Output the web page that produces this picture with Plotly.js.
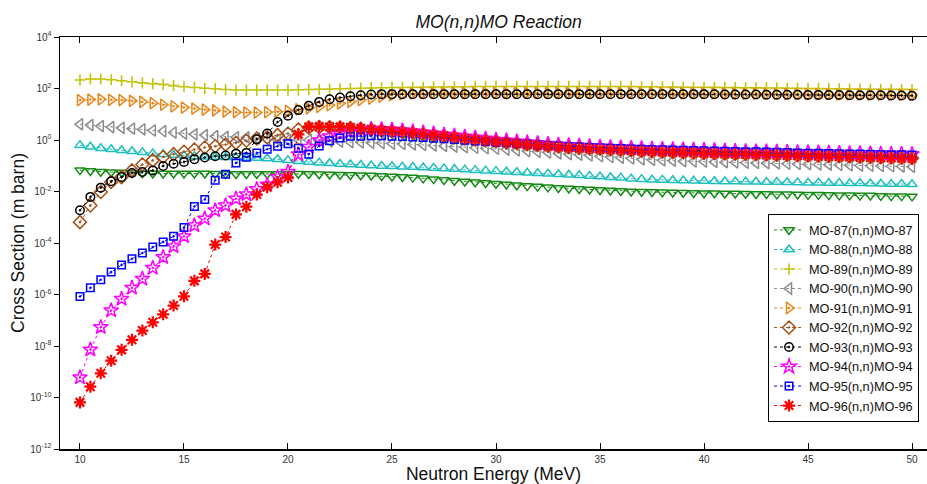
<!DOCTYPE html>
<html>
<head>
<meta charset="utf-8">
<script src="https://cdn.plot.ly/plotly-3.0.1.min.js"></script>
<style>html,body{margin:0;padding:0;background:#fff;}#chart{width:927px;height:484px;}</style>
</head>
<body>
<div id="chart"></div>
<script>
// Neutron energy (MeV)
const energy = [10,10.5,11,11.5,12,12.5,13,13.5,14,14.5,15,15.5,16,16.5,17,17.5,18,18.5,19,19.5,20,20.5,21,21.5,22,22.5,23,23.5,24,24.5,25,25.5,26,26.5,27,27.5,28,28.5,29,29.5,30,30.5,31,31.5,32,32.5,33,33.5,34,34.5,35,35.5,36,36.5,37,37.5,38,38.5,39,39.5,40,40.5,41,41.5,42,42.5,43,43.5,44,44.5,45,45.5,46,46.5,47,47.5,48,48.5,49,49.5,50];

// Cross sections (m barn)
const mo87 = [0.0676,0.0631,0.0589,0.0562,0.0550,0.0525,0.0513,0.0501,0.0501,0.0501,
  0.0501,0.0501,0.0501,0.0490,0.0479,0.0479,0.0479,0.0479,0.0479,0.0479,
  0.0490,0.0490,0.0479,0.0468,0.0457,0.0447,0.0437,0.0427,0.0417,0.0398,
  0.0380,0.0363,0.0347,0.0324,0.0302,0.0282,0.0263,0.0245,0.0229,0.0214,
  0.0200,0.0186,0.0174,0.0162,0.0155,0.0145,0.0138,0.0132,0.0126,0.0120,
  0.0115,0.0110,0.0105,0.0100,0.00977,0.00955,0.00933,0.00912,0.00891,0.00871,
  0.00851,0.00851,0.00832,0.00832,0.00813,0.00794,0.00794,0.00776,0.00776,0.00759,
  0.00741,0.00741,0.00724,0.00708,0.00708,0.00692,0.00692,0.00676,0.00661,0.00661,
  0.00646];
const mo88 = [0.631,0.550,0.479,0.437,0.398,0.363,0.331,0.302,0.282,0.263,
  0.251,0.234,0.224,0.219,0.214,0.209,0.204,0.200,0.191,0.178,
  0.162,0.148,0.141,0.132,0.126,0.117,0.112,0.107,0.102,0.0977,
  0.0955,0.0912,0.0891,0.0851,0.0813,0.0776,0.0741,0.0708,0.0676,0.0646,
  0.0617,0.0589,0.0562,0.0537,0.0513,0.0490,0.0468,0.0447,0.0427,0.0398,
  0.0380,0.0355,0.0339,0.0316,0.0302,0.0288,0.0282,0.0275,0.0269,0.0263,
  0.0257,0.0251,0.0245,0.0245,0.0240,0.0240,0.0234,0.0234,0.0229,0.0224,
  0.0219,0.0219,0.0214,0.0214,0.0209,0.0209,0.0204,0.0200,0.0195,0.0195,
  0.0191];
const mo89 = [214,234,234,219,200,182,166,155,145,129,
  117,110,102,97.7,91.2,87.1,87.1,87.1,87.1,87.1,
  87.1,89.1,91.2,93.3,95.5,97.7,100,102,105,107,
  110,110,112,112,115,115,117,117,120,120,
  120,120,120,120,120,120,120,120,120,120,
  120,120,120,120,117,117,115,115,112,112,
  112,111,110,108,107,106,105,104,102,101,
  100,98.9,97.7,96.6,95.5,94.4,93.3,93.3,93.3,92.3,
  91.2];
const mo90 = [4.07,3.80,3.47,3.16,2.95,2.75,2.57,2.34,2.19,1.95,
  1.78,1.66,1.55,1.41,1.32,1.29,1.26,1.15,1.05,1.02,
  1.00,1.02,1.00,0.955,0.891,0.871,0.832,0.813,0.776,0.759,
  0.724,0.708,0.676,0.646,0.617,0.589,0.550,0.525,0.501,0.479,
  0.457,0.427,0.398,0.372,0.347,0.324,0.302,0.282,0.269,0.251,
  0.234,0.219,0.204,0.191,0.178,0.170,0.162,0.158,0.151,0.148,
  0.145,0.141,0.138,0.135,0.132,0.129,0.126,0.123,0.120,0.117,
  0.115,0.112,0.110,0.107,0.105,0.102,0.100,0.0977,0.0955,0.0933,
  0.0912];
const mo91 = [35.5,37.2,38.0,36.3,35.5,33.1,30.2,26.9,23.4,20.4,
  18.2,16.6,15.1,14.1,12.6,12.0,11.7,11.7,12.0,12.6,
  13.5,15.5,17.0,19.5,22.4,26.3,30.2,35.5,40.7,47.9,
  55.0,60.3,64.6,66.1,67.6,67.6,67.6,67.6,67.6,67.6,
  67.6,67.6,67.6,67.6,67.6,67.6,67.6,67.6,67.6,67.6,
  67.6,67.6,67.6,67.6,67.6,67.6,67.6,67.6,66.1,66.1,
  66.1,65.3,64.6,63.8,63.1,63.1,63.1,62.4,61.7,61.0,
  60.3,60.3,60.3,59.6,58.9,58.2,57.5,57.5,57.5,56.9,
  56.2];
const mo92 = [6.46e-4,2.88e-3,9.55e-3,2.34e-2,3.63e-2,6.61e-2,0.112,0.162,0.219,0.282,
  0.347,0.427,0.513,0.575,0.661,0.776,0.933,1.15,1.26,1.55,
  1.78,2.57,3.02,3.16,3.09,3.02,2.88,2.69,2.51,2.29,
  2.14,2.00,1.82,1.66,1.51,1.38,1.26,1.15,1.05,0.955,
  0.891,0.813,0.759,0.692,0.646,0.603,0.562,0.525,0.501,0.479,
  0.457,0.437,0.417,0.398,0.380,0.363,0.355,0.339,0.331,0.324,
  0.316,0.309,0.302,0.295,0.288,0.282,0.275,0.269,0.263,0.257,
  0.251,0.245,0.240,0.234,0.229,0.224,0.219,0.214,0.209,0.204,
  0.200];
const mo93 = [1.86e-3,6.17e-3,1.41e-2,2.51e-2,3.63e-2,5.25e-2,5.75e-2,6.61e-2,9.77e-2,0.120,
  0.141,0.178,0.209,0.234,0.251,0.295,0.316,1.07,1.78,5.01,
  8.71,14.5,21.4,30.2,38.0,44.7,50.1,55.0,58.9,60.3,
  60.3,60.3,60.3,60.3,60.3,60.3,60.3,60.3,60.3,60.3,
  60.3,60.3,60.3,60.3,60.3,60.3,60.3,60.3,60.3,60.3,
  60.3,60.3,60.3,60.3,60.3,60.3,60.3,60.3,60.3,60.3,
  60.3,59.6,58.9,58.9,58.9,58.2,57.5,57.5,57.5,56.9,
  56.2,56.2,56.2,55.6,55.0,55.0,55.0,54.4,53.7,53.1,
  52.5];
const mo94 = [6.03e-10,7.24e-9,5.37e-8,2.40e-7,6.76e-7,1.82e-6,4.07e-6,1.07e-5,2.82e-5,7.41e-5,
  1.82e-4,4.79e-4,8.91e-4,1.86e-3,2.88e-3,5.25e-3,7.76e-3,1.23e-2,1.86e-2,3.63e-2,
  5.75e-2,0.275,0.537,0.977,1.38,1.82,2.19,2.51,2.69,2.63,
  2.51,2.34,2.14,1.95,1.78,1.62,1.48,1.35,1.23,1.12,
  1.02,0.955,0.871,0.813,0.759,0.708,0.661,0.631,0.603,0.575,
  0.550,0.525,0.513,0.490,0.479,0.457,0.447,0.437,0.427,0.417,
  0.407,0.398,0.389,0.380,0.372,0.363,0.363,0.355,0.347,0.339,
  0.331,0.331,0.324,0.316,0.309,0.309,0.302,0.295,0.288,0.288,
  0.282];
const mo95 = [8.32e-7,1.82e-6,3.72e-6,7.41e-6,1.41e-5,2.45e-5,4.07e-5,6.92e-5,1.10e-4,1.82e-4,
  3.98e-4,2.63e-3,4.90e-3,2.75e-2,4.68e-2,0.129,0.214,0.316,0.437,0.575,
  0.708,0.479,0.282,0.589,0.933,1.20,1.41,1.41,1.45,1.45,
  1.41,1.38,1.32,1.26,1.17,1.12,1.05,0.977,0.912,0.871,
  0.813,0.776,0.724,0.692,0.646,0.617,0.589,0.562,0.537,0.513,
  0.501,0.479,0.468,0.447,0.437,0.427,0.417,0.407,0.398,0.389,
  0.380,0.372,0.363,0.355,0.347,0.347,0.339,0.331,0.324,0.316,
  0.309,0.309,0.302,0.295,0.288,0.288,0.282,0.275,0.269,0.269,
  0.263];
const mo96 = [6.46e-11,2.63e-10,8.71e-10,2.69e-9,7.08e-9,1.74e-8,3.98e-8,8.32e-8,1.70e-7,3.72e-7,
  8.51e-7,3.39e-6,6.31e-6,8.71e-5,1.70e-4,1.29e-3,2.57e-3,7.59e-3,1.45e-2,2.29e-2,
  3.47e-2,1.66,3.24,3.31,3.24,3.24,3.09,2.88,2.63,2.40,
  2.24,2.09,1.91,1.74,1.58,1.45,1.29,1.15,1.05,0.955,
  0.871,0.794,0.724,0.661,0.617,0.575,0.537,0.501,0.479,0.457,
  0.437,0.417,0.398,0.380,0.363,0.355,0.339,0.331,0.324,0.316,
  0.302,0.295,0.288,0.282,0.275,0.269,0.263,0.257,0.251,0.245,
  0.240,0.234,0.229,0.224,0.219,0.214,0.209,0.204,0.200,0.195,
  0.191];

const seriesNames = ['MO-87(n,n)MO-87','MO-88(n,n)MO-88','MO-89(n,n)MO-89','MO-90(n,n)MO-90','MO-91(n,n)MO-91',
  'MO-92(n,n)MO-92','MO-93(n,n)MO-93','MO-94(n,n)MO-94','MO-95(n,n)MO-95','MO-96(n,n)MO-96'];
const xTickVals = [10,15,20,25,30,35,40,45,50];
const yTickVals = [1e-12,1e-10,1e-8,1e-6,1e-4,1e-2,1e0,1e2,1e4];
const yTickText = ['10<sup>-12</sup>','10<sup>-10</sup>','10<sup>-8</sup>','10<sup>-6</sup>','10<sup>-4</sup>','10<sup>-2</sup>','10<sup>0</sup>','10<sup>2</sup>','10<sup>4</sup>'];

const seriesData = [mo87,mo88,mo89,mo90,mo91,mo92,mo93,mo94,mo95,mo96];
const styles = [
  {color:'#138a13', symbol:'triangle-down-open', size:9, w:1.5},
  {color:'#1fbfbf', symbol:'triangle-up-open', size:9, w:1.5},
  {color:'#c4c40c', symbol:'cross-thin-open', size:8, w:1.6},
  {color:'#8c8c8c', symbol:'triangle-left-open', size:10, w:1.5},
  {color:'#e8861a', symbol:'triangle-right-open-dot', size:10, w:1.5},
  {color:'#a8501a', symbol:'diamond-open-dot', size:10, w:1.5},
  {color:'#000000', symbol:'circle-open-dot', size:8.5, w:1.5},
  {color:'#ff00ff', symbol:'star-open-dot', size:11, w:1.5},
  {color:'#0000ff', symbol:'square-open-dot', size:7.5, w:1.5},
  {color:'#ff0000', symbol:'asterisk-open', size:10, w:2.2}
];

const traces = seriesData.map((ys, i) => ({
  type: 'scatter', mode: 'lines+markers', name: seriesNames[i],
  x: energy, y: ys,
  line: {color: styles[i].color, width: 1, dash: 'dot'},
  marker: {symbol: styles[i].symbol, size: styles[i].size, color: styles[i].color,
           line: {color: styles[i].color, width: styles[i].w}}
}));

const FONT = 'Arial, "Liberation Sans", sans-serif';
const layout = {
  width: 927, height: 484,
  margin: {l: 60, r: 0, t: 37, b: 35},
  paper_bgcolor: '#ffffff', plot_bgcolor: '#ffffff',
  font: {family: FONT, color: '#222'},
  title: {text: '<i>MO(n,n)MO Reaction</i>', font: {family: FONT, size: 17.5, color: '#111'},
          x: 0.506, xref: 'paper', xanchor: 'center', y: 1 - 22/484, yref: 'container', yanchor: 'middle'},
  showlegend: true,
  legend: {x: 0.9908, y: 0.065, xanchor: 'right', yanchor: 'bottom',
           bgcolor: '#ffffff', bordercolor: '#000', borderwidth: 1,
           font: {family: FONT, size: 12.7, color: '#111'}, tracegroupgap: 0},
  xaxis: {
    range: [9.04, 50.72], tickvals: xTickVals, ticks: 'inside', ticklen: 6, tickwidth: 1, tickcolor: '#000',
    showline: true, linecolor: '#000', linewidth: 1.5, mirror: 'ticks',
    showgrid: false, zeroline: false, automargin: false,
    tickfont: {family: FONT, size: 10, color: '#333'},
    title: {text: 'Neutron Energy (MeV)', font: {family: FONT, size: 17.5, color: '#111'}, standoff: 1}
  },
  yaxis: {
    type: 'log', range: [-12, 4], tickvals: yTickVals, ticktext: yTickText,
    ticks: 'outside', ticklen: 5, tickwidth: 1, tickcolor: '#000',
    showline: true, linecolor: '#000', linewidth: 1.5, mirror: false,
    showgrid: false, zeroline: false, automargin: false,
    tickfont: {family: FONT, size: 10, color: '#333'},
    title: {text: 'Cross Section (m barn)', font: {family: FONT, size: 17.5, color: '#111'}, standoff: 1}
  }
};

Plotly.newPlot('chart', traces, layout, {staticPlot: true, displayModeBar: false});
</script>
</body>
</html>
